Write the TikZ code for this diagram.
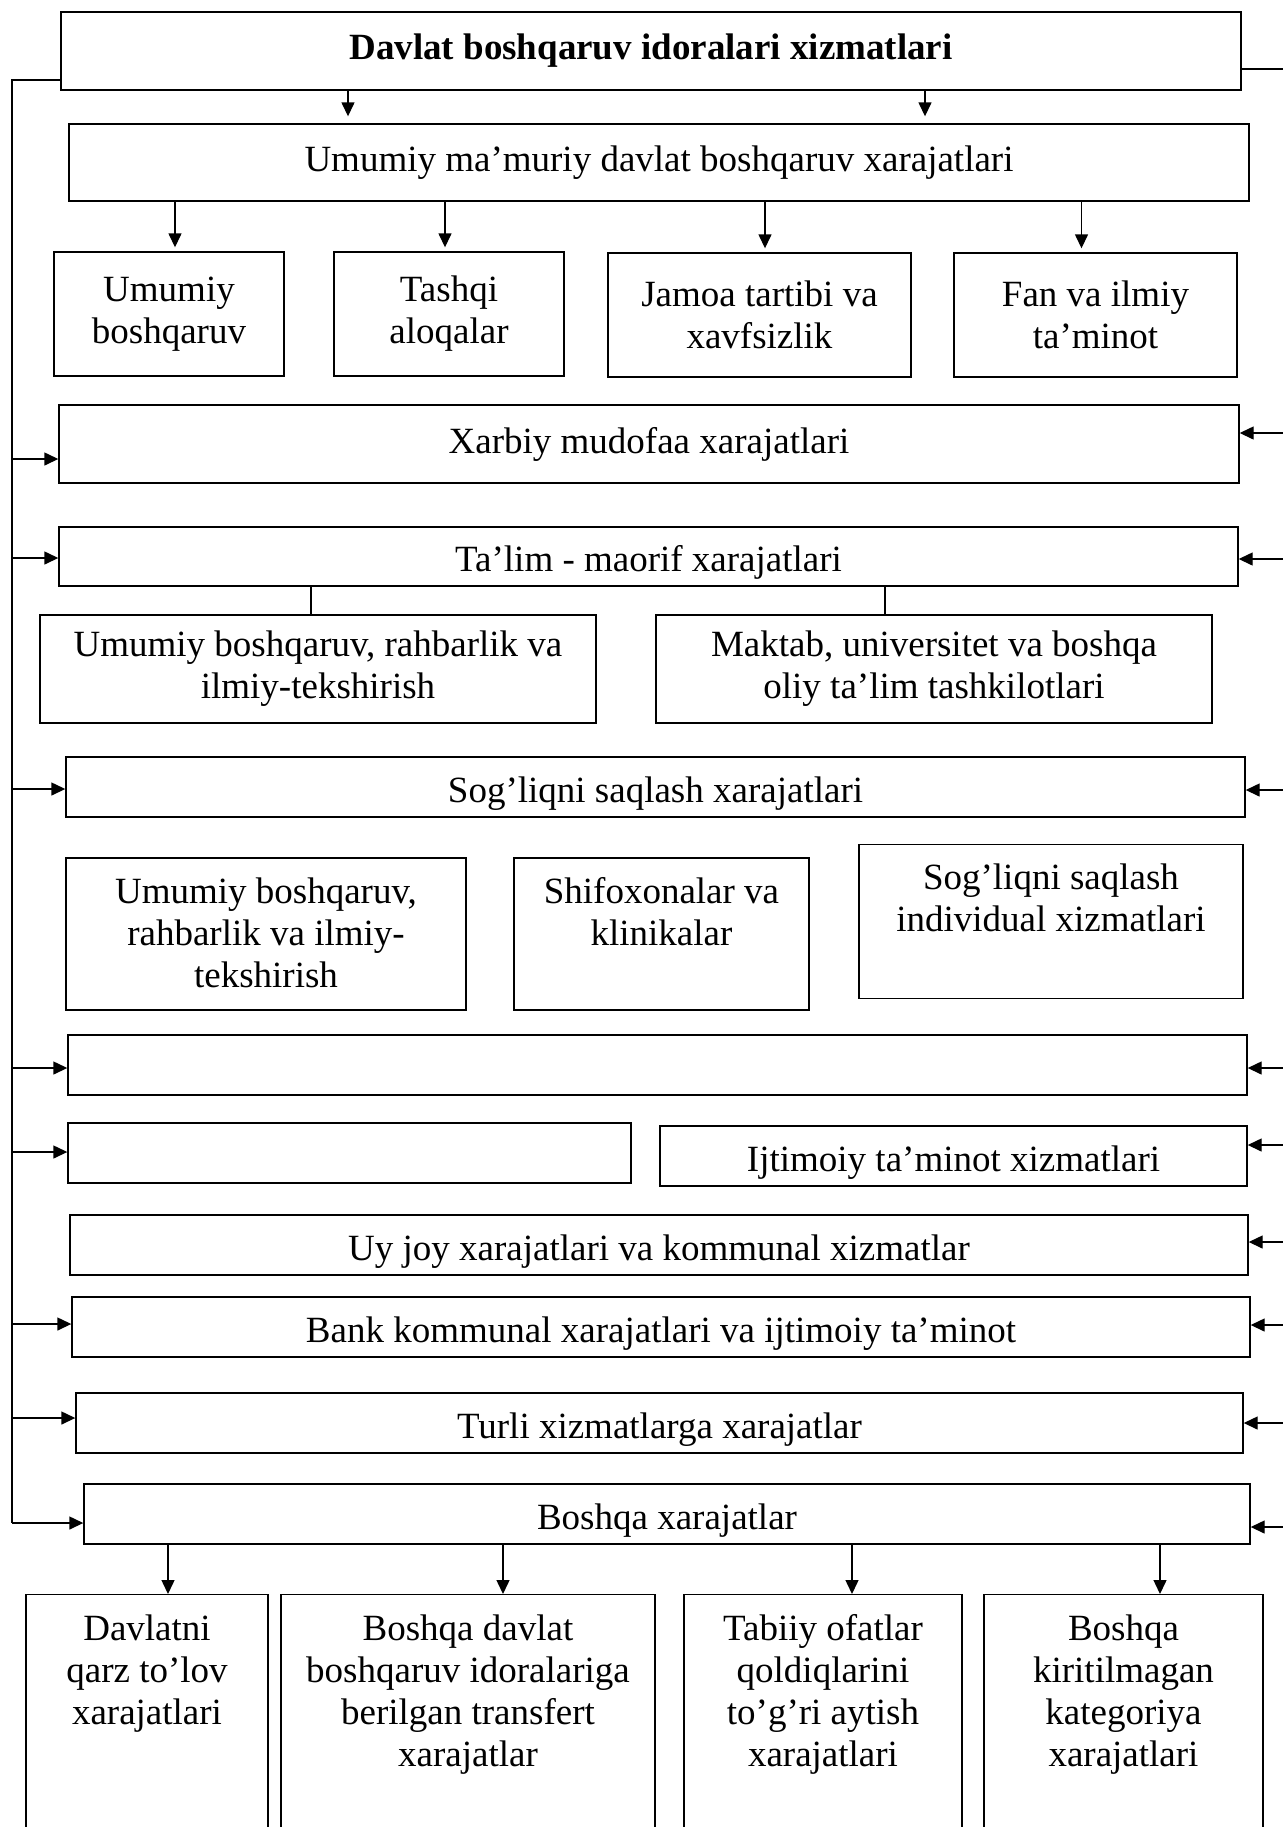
\documentclass[tikz,border=0pt]{standalone}
\usepackage{fontspec}
\setmainfont{Liberation Serif}
\usetikzlibrary{arrows.meta}

\newcommand{\topblock}[3]{\parbox[c][#1][t]{#2}{\centering\vspace*{8pt}\strut #3}}

\begin{document}
\begin{tikzpicture}[x = 0.5pt, y = -0.5pt,
    box/.style = {draw, line width = 0.7pt, inner sep = 2pt, align = center,
                  font = \fontsize{18.5}{21}\selectfont},
    flat/.style = {box, text height = 15.2pt, text depth = 0pt},
    openbox/.style = {box, inner sep = 0pt},
    arr/.style = {-{Triangle[length = 7pt, width = 6.5pt]}, line width = 0.7pt},
    link/.style = {line width = 0.7pt}]
    \useasboundingbox (0,0) rectangle (1283,1827);
    \clip (0,0) rectangle (1283,1827);

    % top of the tree
    \node [box, minimum width = 590pt, minimum height = 39pt] (title) at (651,51)
        {\textbf{Davlat boshqaruv idoralari xizmatlari}};
    \node [box, minimum width = 590pt, minimum height = 38.5pt] (umumiy) at (659,162.5)
        {Umumiy ma’muriy davlat boshqaruv xarajatlari};
    \node [box, minimum width = 115pt, minimum height = 62pt] (ub) at (169,314) {Umumiy\\ boshqaruv};
    \node [box, minimum width = 115pt, minimum height = 62pt] (ta) at (449,314) {Tashqi\\ aloqalar};
    \node [box, minimum width = 151.5pt, minimum height = 62pt] (jt) at (759.5,315) {Jamoa tartibi va\\ xavfsizlik};
    \node [box, minimum width = 141.5pt, minimum height = 62pt] (fi) at (1095.5,315) {Fan va ilmiy\\ ta’minot};

    \draw [arr, shorten > = 3.5pt] ([xshift = -151.5pt]title.south) -- ([xshift = -151.5pt]title.south |- umumiy.north);
    \draw [arr, shorten > = 3.5pt] ([xshift = 137pt]title.south) -- ([xshift = 137pt]title.south |- umumiy.north);
    \draw [arr, shorten > = 2pt] ([xshift = 3pt]ub.north |- umumiy.south) -- ([xshift = 3pt]ub.north);
    \draw [arr, shorten > = 2pt] ([xshift = -2pt]ta.north |- umumiy.south) -- ([xshift = -2pt]ta.north);
    \draw [arr, shorten > = 2pt] ([xshift = 2.75pt]jt.north |- umumiy.south) -- ([xshift = 2.75pt]jt.north);
    \draw [arr, shorten > = 2pt] ([xshift = -7pt]fi.north |- umumiy.south) -- ([xshift = -7pt]fi.north);

    % expenditure rows
    \node [box, minimum width = 590pt, minimum height = 39pt] (xarbiy) at (649,444) {Xarbiy mudofaa xarajatlari};
    \node [flat, minimum width = 589.5pt, minimum height = 29.5pt] (talim) at (648.5,556.5) {Ta’lim - maorif xarajatlari};
    \node [box, minimum width = 278pt, minimum height = 54pt] (talima) at (318,669)
        {Umumiy boshqaruv, rahbarlik va\\ ilmiy-tekshirish};
    \node [box, minimum width = 278pt, minimum height = 54pt] (talimb) at (934,669)
        {Maktab, universitet va boshqa\\ oliy ta’lim tashkilotlari};
    \draw [link] ([xshift = -3.5pt]talima.north |- talim.south) -- ([xshift = -3.5pt]talima.north);
    \draw [link] ([xshift = -24.5pt]talimb.north |- talim.south) -- ([xshift = -24.5pt]talimb.north);

    \node [flat, minimum width = 589.5pt, minimum height = 30pt] (sog) at (655.5,787) {Sog’liqni saqlash xarajatlari};
    \node [openbox] (soga) at (266,934)
        {\topblock{76pt}{200pt}{Umumiy boshqaruv,\\ rahbarlik va ilmiy-\\ tekshirish}};
    \node [openbox] (sogb) at (661.5,934)
        {\topblock{76pt}{147.5pt}{Shifoxonalar va\\ klinikalar}};
    \node [openbox] (sogc) at (1051,921.5)
        {\topblock{77pt}{192pt}{Sog’liqni saqlash\\ individual xizmatlari}};

    \node [box, minimum width = 589.5pt, minimum height = 30pt] (bosh1) at (657.5,1065) {};
    \node [box, minimum width = 281.5pt, minimum height = 30pt] (bosh2) at (349.5,1153) {};
    \node [flat, minimum width = 293.5pt, minimum height = 30pt] (ijt) at (953.5,1156) {Ijtimoiy ta’minot xizmatlari};
    \node [flat, minimum width = 589pt, minimum height = 30pt] (uy) at (659,1245) {Uy joy xarajatlari va kommunal xizmatlar};
    \node [flat, minimum width = 589pt, minimum height = 30pt] (bank) at (661,1327) {Bank kommunal xarajatlari va ijtimoiy ta’minot};
    \node [flat, minimum width = 583.5pt, minimum height = 30pt] (turli) at (659.5,1423) {Turli xizmatlarga xarajatlar};
    \node [flat, minimum width = 583pt, minimum height = 30pt] (boshqa) at (667,1514) {Boshqa xarajatlar};

    % last level, cut by the page
    \node [openbox, anchor = north] (qarz) at (147,1594)
        {\topblock{123pt}{121pt}{Davlatni\\ qarz to’lov\\ xarajatlari}};
    \node [openbox, anchor = north] (transfert) at (468,1594)
        {\topblock{123pt}{187pt}{Boshqa davlat\\ boshqaruv idoralariga\\ berilgan transfert\\ xarajatlar}};
    \node [openbox, anchor = north] (ofat) at (823,1594)
        {\topblock{123pt}{139pt}{Tabiiy ofatlar\\ qoldiqlarini\\ to’g’ri aytish\\ xarajatlari}};
    \node [openbox, anchor = north] (kateg) at (1123.5,1594)
        {\topblock{123pt}{139.5pt}{Boshqa\\ kiritilmagan\\ kategoriya\\ xarajatlari}};
    \draw [arr] ([xshift = 10.5pt]qarz.north |- boshqa.south) -- ([xshift = 10.5pt]qarz.north);
    \draw [arr] ([xshift = 17.5pt]transfert.north |- boshqa.south) -- ([xshift = 17.5pt]transfert.north);
    \draw [arr] ([xshift = 14.5pt]ofat.north |- boshqa.south) -- ([xshift = 14.5pt]ofat.north);
    \draw [arr] ([xshift = 18.25pt]kateg.north |- boshqa.south) -- ([xshift = 18.25pt]kateg.north);

    % side lines from the title box
    \coordinate (ltop) at (12,80);
    \coordinate (lbot) at (12,1523);
    \coordinate (rtop) at (1283,69);
    \draw [link] (title.west |- ltop) -- (ltop) -- (lbot);
    \draw [link] (title.east |- rtop) -- (rtop);

    \coordinate (l1) at (12,459);
    \coordinate (l2) at (12,558);
    \coordinate (l3) at (12,789);
    \coordinate (l4) at (12,1068);
    \coordinate (l5) at (12,1152);
    \coordinate (l6) at (12,1324);
    \coordinate (l7) at (12,1418);
    \draw [arr] (l1) -- (l1 -| xarbiy.west);
    \draw [arr] (l2) -- (l2 -| talim.west);
    \draw [arr] (l3) -- (l3 -| sog.west);
    \draw [arr] (l4) -- (l4 -| bosh1.west);
    \draw [arr] (l5) -- (l5 -| bosh2.west);
    \draw [arr] (l6) -- (l6 -| bank.west);
    \draw [arr] (l7) -- (l7 -| turli.west);
    \draw [arr] (lbot) -- (lbot -| boshqa.west);

    \coordinate (r1) at (1283,433);
    \coordinate (r2) at (1283,559);
    \coordinate (r3) at (1283,790);
    \coordinate (r4) at (1283,1068);
    \coordinate (r5) at (1283,1145);
    \coordinate (r6) at (1283,1242);
    \coordinate (r7) at (1283,1325);
    \coordinate (r8) at (1283,1423);
    \coordinate (r9) at (1283,1527);
    \draw [arr] (r1) -- (r1 -| xarbiy.east);
    \draw [arr] (r2) -- (r2 -| talim.east);
    \draw [arr] (r3) -- (r3 -| sog.east);
    \draw [arr] (r4) -- (r4 -| bosh1.east);
    \draw [arr] (r5) -- (r5 -| ijt.east);
    \draw [arr] (r6) -- (r6 -| uy.east);
    \draw [arr] (r7) -- (r7 -| bank.east);
    \draw [arr] (r8) -- (r8 -| turli.east);
    \draw [arr] (r9) -- (r9 -| boshqa.east);
\end{tikzpicture}
\end{document}
